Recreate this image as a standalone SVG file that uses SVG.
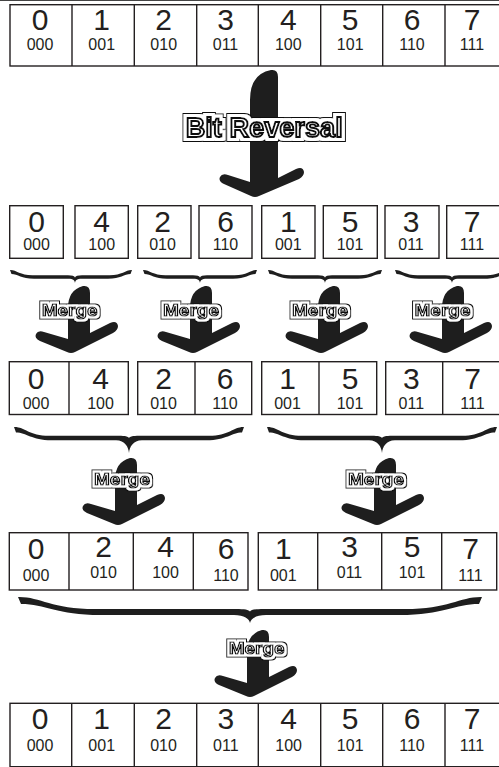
<svg xmlns="http://www.w3.org/2000/svg" width="499" height="767" viewBox="0 0 499 767">
<style>
.box{fill:#fff;stroke:#231f20;stroke-width:1.4}
.dv{stroke:#231f20;stroke-width:1.4}
.d{font-family:"Liberation Sans",Arial,Helvetica,sans-serif;font-size:30px;fill:#231f20;text-anchor:middle}
.b{font-family:"Liberation Sans",Arial,Helvetica,sans-serif;font-size:16px;fill:#231f20;text-anchor:middle}
.shape{fill:#1e1e1e}
.lbl{font-family:"Liberation Sans",Arial,Helvetica,sans-serif;font-weight:bold;font-size:16.5px;fill:#fff;stroke:#111;stroke-width:1.2;text-anchor:middle;filter:url(#haloS)}
.big{font-size:27.5px;stroke-width:2.1;filter:url(#haloL)}
</style>
<defs>
<filter id="haloS" x="-20%" y="-60%" width="140%" height="220%">
<feMorphology in="SourceAlpha" operator="dilate" radius="2.9" result="o"/>
<feMorphology in="SourceAlpha" operator="dilate" radius="1.8" result="i"/>
<feFlood flood-color="#111" result="k"/>
<feComposite in="k" in2="o" operator="in" result="ko"/>
<feFlood flood-color="#fff" result="w"/>
<feComposite in="w" in2="i" operator="in" result="wi"/>
<feMerge><feMergeNode in="ko"/><feMergeNode in="wi"/><feMergeNode in="SourceGraphic"/></feMerge>
</filter>
<filter id="haloL" x="-20%" y="-60%" width="140%" height="220%">
<feMorphology in="SourceAlpha" operator="dilate" radius="3.7" result="o"/>
<feMorphology in="SourceAlpha" operator="dilate" radius="2.5" result="i"/>
<feFlood flood-color="#111" result="k"/>
<feComposite in="k" in2="o" operator="in" result="ko"/>
<feFlood flood-color="#fff" result="w"/>
<feComposite in="w" in2="i" operator="in" result="wi"/>
<feMerge><feMergeNode in="ko"/><feMergeNode in="wi"/><feMergeNode in="SourceGraphic"/></feMerge>
</filter>
<path id="marrow" class="shape" d="M 4,-67 Q 11,-68 11,-60 L 11,-20 L 31,-30 Q 38,-33 39,-27 Q 39,-23 34,-20 L -4,-1 Q -8,1 -12,-1 L -39,-12 Q -45,-15 -43,-19 Q -41,-23 -35,-21 L -11,-14 L -11,-45 Q -11,-63 4,-67 Z"/>
<path id="brace1" class="shape" d="M -57,0 C -50.6,-0.3 -47.4,5.25 -34.6,5.25 L -7,5.25 C -2.8,5.25 -0.5,6 0,7.5 C 0.5,6 2.8,5.25 7,5.25 L 34.6,5.25 C 47.4,5.25 50.6,-0.3 57,0 L 55.5,4 C 49,4 45.8,8.75 33,8.75 L 9,8.75 C 2.8,8.75 0.5,9 0,13 C -0.5,9 -2.8,8.75 -9,8.75 L -33,8.75 C -45.8,8.75 -49,4 -55.5,4 Z"/>
<path id="brace2" class="shape" d="M -115,0 C -105,-0.5 -100,8.75 -80,8.75 L -10,8.75 C -4,8.75 -0.7,9.5 0,11 C 0.7,9.5 4,8.75 10,8.75 L 80,8.75 C 100,8.75 105,-0.5 115,0 L 113,5.5 C 102.5,5.5 97.5,13.25 77.5,13.25 L 13,13.25 C 4,13.25 0.6,20 0,26 C -0.6,20 -4,13.25 -13,13.25 L -77.5,13.25 C -97.5,13.25 -102.5,5.5 -113,5.5 Z"/>
</defs>

<line x1="0" y1="0.5" x2="499" y2="0.5" stroke="#444" stroke-width="1"/>

<g id="input-array">
<rect class="box" x="10" y="4.7" width="492" height="61.3"/>
<path class="dv" d="M72,4.7V66M134.3,4.7V66M196.7,4.7V66M258.3,4.7V66M320.7,4.7V66M382.7,4.7V66M445,4.7V66"/>
<text class="d" x="40" y="29.5">0</text><text class="b" x="40" y="49.8">000</text>
<text class="d" x="101.7" y="29.5">1</text><text class="b" x="101.7" y="49.8">001</text>
<text class="d" x="163.7" y="29.5">2</text><text class="b" x="163.7" y="49.8">010</text>
<text class="d" x="225.5" y="29.5">3</text><text class="b" x="225.5" y="49.8">011</text>
<text class="d" x="288.3" y="29.5">4</text><text class="b" x="288.3" y="49.8">100</text>
<text class="d" x="350.2" y="29.5">5</text><text class="b" x="350.2" y="49.8">101</text>
<text class="d" x="412" y="29.5">6</text><text class="b" x="412" y="49.8">110</text>
<text class="d" x="472" y="29.5">7</text><text class="b" x="472" y="49.8">111</text>
</g>

<g id="rev-0"><rect class="box" x="9.7" y="205.7" width="53.6" height="52.6"/><text class="d" x="36.5" y="232">0</text><text class="b" x="36.5" y="250">000</text></g>
<g id="rev-4"><rect class="box" x="75" y="205.7" width="53.3" height="52.6"/><text class="d" x="101.7" y="232">4</text><text class="b" x="101.7" y="250">100</text></g>
<g id="rev-2"><rect class="box" x="137.7" y="205.7" width="53.3" height="52.6"/><text class="d" x="162.5" y="232">2</text><text class="b" x="162.5" y="250">010</text></g>
<g id="rev-6"><rect class="box" x="199" y="205.7" width="53" height="52.6"/><text class="d" x="225.5" y="232">6</text><text class="b" x="225.5" y="250">110</text></g>
<g id="rev-1"><rect class="box" x="261.7" y="205.7" width="53.3" height="52.6"/><text class="d" x="288.3" y="232">1</text><text class="b" x="288.3" y="250">001</text></g>
<g id="rev-5"><rect class="box" x="323.3" y="205.7" width="54" height="52.6"/><text class="d" x="350" y="232">5</text><text class="b" x="350" y="250">101</text></g>
<g id="rev-3"><rect class="box" x="385" y="205.7" width="54" height="52.6"/><text class="d" x="411" y="232">3</text><text class="b" x="411" y="250">011</text></g>
<g id="rev-7"><rect class="box" x="446.7" y="205.7" width="54" height="52.6"/><text class="d" x="472" y="232">7</text><text class="b" x="472" y="250">111</text></g>

<g id="pair-04"><rect class="box" x="9.3" y="361.7" width="119" height="52.8"/><path class="dv" d="M69,361.7V414.5"/>
<text class="d" x="36" y="388.5">0</text><text class="b" x="36" y="408.5">000</text>
<text class="d" x="100.5" y="388.5">4</text><text class="b" x="100.5" y="408.5">100</text></g>
<g id="pair-26"><rect class="box" x="137.7" y="361.7" width="114" height="52.8"/><path class="dv" d="M195,361.7V414.5"/>
<text class="d" x="163.5" y="388.5">2</text><text class="b" x="163.5" y="408.5">010</text>
<text class="d" x="225" y="388.5">6</text><text class="b" x="225" y="408.5">110</text></g>
<g id="pair-15"><rect class="box" x="261.7" y="361.7" width="115" height="52.8"/><path class="dv" d="M319,361.7V414.5"/>
<text class="d" x="287.5" y="388.5">1</text><text class="b" x="287.5" y="408.5">001</text>
<text class="d" x="350" y="388.5">5</text><text class="b" x="350" y="408.5">101</text></g>
<g id="pair-37"><rect class="box" x="385.7" y="361.7" width="116" height="52.8"/><path class="dv" d="M442.7,361.7V414.5"/>
<text class="d" x="411.3" y="388.5">3</text><text class="b" x="411.3" y="408.5">011</text>
<text class="d" x="472.5" y="388.5">7</text><text class="b" x="472.5" y="408.5">111</text></g>

<g id="quad-0246"><rect class="box" x="9.3" y="532.7" width="238.7" height="57.3"/><path class="dv" d="M69,532.7V590M133.3,532.7V590M193.3,532.7V590"/>
<text class="d" x="36" y="559.3">0</text><text class="b" x="36" y="581">000</text>
<text class="d" x="103.5" y="557.3">2</text><text class="b" x="103.5" y="578.3">010</text>
<text class="d" x="165.5" y="557.3">4</text><text class="b" x="165.5" y="578.3">100</text>
<text class="d" x="226" y="559.3">6</text><text class="b" x="226" y="581">110</text></g>
<g id="quad-1357"><rect class="box" x="258.3" y="532.7" width="238.4" height="57.3"/><path class="dv" d="M317.7,532.7V590M381.7,532.7V590M441.7,532.7V590"/>
<text class="d" x="283.3" y="559.3">1</text><text class="b" x="283.3" y="581">001</text>
<text class="d" x="349.5" y="557.3">3</text><text class="b" x="349.5" y="578.3">011</text>
<text class="d" x="412" y="557.3">5</text><text class="b" x="412" y="578.3">101</text>
<text class="d" x="470.5" y="559.3">7</text><text class="b" x="470.5" y="581">111</text></g>

<g id="output-array">
<rect class="box" x="10" y="703.3" width="492" height="63.4"/>
<path class="dv" d="M71.7,703.3V767M134.3,703.3V767M196.7,703.3V767M258.3,703.3V767M320.7,703.3V767M382.7,703.3V767M445,703.3V767"/>
<text class="d" x="40" y="729">0</text><text class="b" x="40" y="750.5">000</text>
<text class="d" x="101.7" y="729">1</text><text class="b" x="101.7" y="750.5">001</text>
<text class="d" x="163.5" y="729">2</text><text class="b" x="163.5" y="750.5">010</text>
<text class="d" x="225.8" y="729">3</text><text class="b" x="225.8" y="750.5">011</text>
<text class="d" x="288.6" y="729">4</text><text class="b" x="288.6" y="750.5">100</text>
<text class="d" x="350.2" y="729">5</text><text class="b" x="350.2" y="750.5">101</text>
<text class="d" x="412" y="729">6</text><text class="b" x="412" y="750.5">110</text>
<text class="d" x="472" y="729">7</text><text class="b" x="472" y="750.5">111</text>
</g>

<g id="connectors">
<path class="shape" transform="translate(264,197)" d="M 7,-127 Q 14,-128 14,-120 L 14,-19 L 32,-28 Q 39,-31 40,-25 Q 40,-21 35,-18 L -5,-1 Q -9,1 -13,-1 L -40,-13 Q -46,-16 -44,-20 Q -42,-24 -36,-22 L -14,-15 L -14,-97 Q -14,-123 7,-127 Z"/>
<text class="lbl big" x="264.2" y="136.5" textLength="157" lengthAdjust="spacingAndGlyphs">Bit Reversal</text>

<path class="shape" transform="translate(75,270)" d="M -65,0 C -58.6,-0.3 -55.4,5.25 -42.6,5.25 L -7,5.25 C -2.8,5.25 -0.5,6 0,7.5 C 0.5,6 2.8,5.25 7,5.25 L 34.6,5.25 C 47.4,5.25 50.6,-0.3 57,0 L 55.5,4 C 49,4 45.8,8.75 33,8.75 L 9,8.75 C 2.8,8.75 0.5,9 0,13 C -0.5,9 -2.8,8.75 -9,8.75 L -41,8.75 C -53.8,8.75 -57,4 -63.5,4 Z"/>
<use href="#brace1" transform="translate(200,270)"/>
<use href="#brace1" transform="translate(325,270)"/>
<use href="#brace1" transform="translate(452,270)"/>
<use href="#marrow" transform="translate(79,353)"/>
<use href="#marrow" transform="translate(201,353)"/>
<use href="#marrow" transform="translate(329,353)"/>
<use href="#marrow" transform="translate(453,353)"/>
<text class="lbl" x="69.7" y="315.5" textLength="56" lengthAdjust="spacingAndGlyphs">Merge</text>
<text class="lbl" x="191" y="315.5" textLength="56" lengthAdjust="spacingAndGlyphs">Merge</text>
<text class="lbl" x="320" y="315.5" textLength="56" lengthAdjust="spacingAndGlyphs">Merge</text>
<text class="lbl" x="442.5" y="315.5" textLength="56" lengthAdjust="spacingAndGlyphs">Merge</text>

<use href="#brace2" transform="translate(129,427)"/>
<use href="#brace2" transform="translate(382,427)"/>
<use href="#marrow" transform="translate(126,525)"/>
<use href="#marrow" transform="translate(385,525)"/>
<text class="lbl" x="122" y="484.5" textLength="56" lengthAdjust="spacingAndGlyphs">Merge</text>
<text class="lbl" x="376" y="484.5" textLength="56" lengthAdjust="spacingAndGlyphs">Merge</text>

<path class="shape" transform="translate(250,597)" d="M -232,0 C -210,-0.5 -199,12 -155,12 L -14,12 C -5.6,12 -1,12.8 0,14.5 C 1,12.8 5.6,12 14,12 L 155,12 C 199,12 210,-0.5 232,0 L 229,7 C 204.5,7 193.5,18 149.5,18 L 16,18 C 5.6,18 0.7,22 0,26 C -0.7,22 -5.6,18 -16,18 L -149.5,18 C -193.5,18 -204.5,7 -229,7 Z"/>
<use href="#marrow" transform="translate(258,697)"/>
<text class="lbl" x="256.7" y="653.6" textLength="56" lengthAdjust="spacingAndGlyphs">Merge</text>
</g>
</svg>
